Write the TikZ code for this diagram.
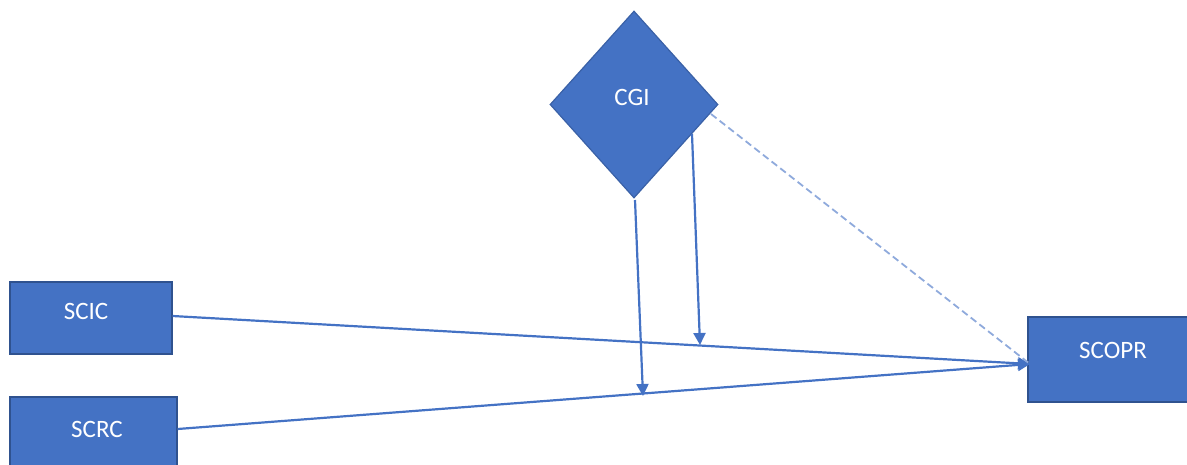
\documentclass[tikz,border=0pt]{standalone}
\usepackage{fontspec}
\setmainfont{Carlito}
\usetikzlibrary{shapes.geometric,arrows.meta}
\definecolor{accent}{HTML}{4472C4}
\definecolor{accentdark}{HTML}{2F528F}
\definecolor{dashblue}{HTML}{8FAADC}
\tikzset{
  boxnode/.style={draw=accentdark, line width=1.2pt, fill=accent, inner sep=0pt},
  labeltext/.style={text=white, inner sep=0pt, font=\fontsize{25}{28}\selectfont},
  link/.style={draw=accent, line width=2.2pt, -{Triangle[width=12pt,length=12pt]}},
  dashlink/.style={draw=dashblue, line width=1.8pt, dash pattern=on 7pt off 4pt}
}
\begin{document}
\begin{tikzpicture}[x=1pt,y=-1pt]
\useasboundingbox (0,0) rectangle (1187,464);
% boxes
\node[boxnode, minimum width=162pt, minimum height=72pt] (scic) at (91,318) {};
\node[labeltext] (sciclabel) at (86,311) {SCIC};
\node[boxnode, minimum width=167pt, minimum height=80pt] (scrc) at (93.5,437) {};
\node[labeltext] (scrclabel) at (97,429) {SCRC};
\node[boxnode, minimum width=170pt, minimum height=85pt] (scopr) at (1113,359.5) {};
\node[labeltext] (scoprlabel) at (1113,350) {SCOPR};
\node[boxnode, draw=accent!85!black, shape=diamond, aspect=0.9, minimum width=168pt, minimum height=187pt] (cgi) at (634,104.5) {};
\node[labeltext] (cgilabel) at (632,97) {CGI};
% connection points
\coordinate (tip) at (1030,364);
\coordinate (a1s) at (635,200);
\coordinate (a1e) at (643,396);
\coordinate (a2s) at (692,134);
\coordinate (a2e) at (700,345);
\coordinate (ds) at (711,114);
% connectors
\draw[link] (scic.east |- 0,316) -- (tip);
\draw[link] (scrc.east |- 0,429) -- (tip);
\draw[dashlink] (ds) -- (tip);
\draw[link] (a1s) -- (a1e);
\draw[link] (a2s) -- (a2e);
\end{tikzpicture}
\end{document}
